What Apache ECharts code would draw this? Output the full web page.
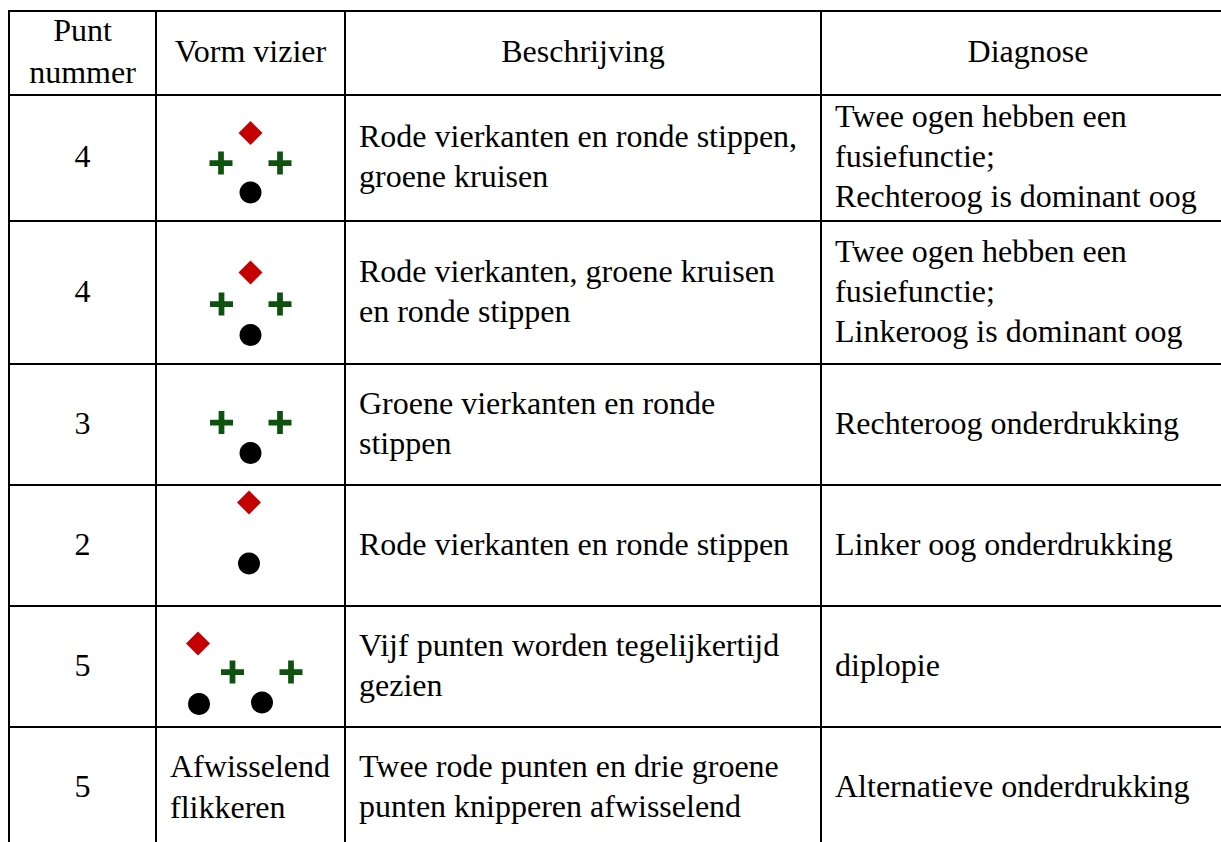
<!DOCTYPE html>
<html>
<head>
<meta charset="utf-8">
<script src="https://cdn.jsdelivr.net/npm/echarts@6/dist/echarts.min.js"></script>
<style>
html,body{margin:0;padding:0;background:#ffffff;}
#chart{width:1221px;height:842px;}
</style>
</head>
<body>
<div id="chart"></div>
<script>
// ---- table content ----
const headers = ["Punt\nnummer", "Vorm vizier", "Beschrijving", "Diagnose"];
const puntNummer = ["4", "4", "3", "2", "5", "5"];
const vormVizierText = ["", "", "", "", "", "Afwisselend\nflikkeren"];
const beschrijving = [
  "Rode vierkanten en ronde stippen,\ngroene kruisen",
  "Rode vierkanten, groene kruisen\nen ronde stippen",
  "Groene vierkanten en ronde\nstippen",
  "Rode vierkanten en ronde stippen",
  "Vijf punten worden tegelijkertijd\ngezien",
  "Twee rode punten en drie groene\npunten knipperen afwisselend"
];
const diagnose = [
  "Twee ogen hebben een\nfusiefunctie;\nRechteroog is dominant oog",
  "Twee ogen hebben een\nfusiefunctie;\nLinkeroog is dominant oog",
  "Rechteroog onderdrukking",
  "Linker oog onderdrukking",
  "diplopie",
  "Alternatieve onderdrukking"
];
// icon marks in the "Vorm vizier" cells: [row, dx, dy] (offset from cell centre)
const diamonds = [[0, 0, -25], [1, 0, -20], [3, -1.5, -43], [4, -52.5, -23]];
const crosses = [[0, -29.5, 5], [0, 29.5, 5], [1, -29, 11.5], [1, 29.5, 11.5],
                 [2, -29, -2], [2, 29.5, -2], [4, -18, 5.5], [4, 40.5, 5.5]];
const dots = [[0, 0, 34.5], [1, 0, 42.5], [2, 0, 28.5], [3, -1.5, 18], [4, -51.5, 37.5], [4, 11.5, 36]];

// ---- layout ----
const colEdges = [9, 156, 345, 821, 1235];
const rowEdges = [11, 95, 221, 364, 485, 606, 727, 849];
const FONT = '32px "Liberation Serif", "Times New Roman", serif';
const PLUS = 'path://M9,0H15V9H24V15H15V24H9V15H0V9H9Z';

const chart = echarts.init(document.getElementById('chart'), null, {renderer: 'svg'});

const graphics = [];
// horizontal lines
rowEdges.forEach(y => {
  graphics.push({type: 'line', shape: {x1: colEdges[0] - 1, y1: y, x2: colEdges[4] + 1, y2: y},
    style: {stroke: '#000', lineWidth: 2}, silent: true});
});
// vertical lines
colEdges.forEach(x => {
  graphics.push({type: 'line', shape: {x1: x, y1: rowEdges[0] - 1, x2: x, y2: rowEdges[7] + 1},
    style: {stroke: '#000', lineWidth: 2}, silent: true});
});

function cellText(text, col, row, align, lh) {
  if (!text) return;
  const x = align === 'center' ? (colEdges[col] + colEdges[col + 1]) / 2 : colEdges[col] + 14;
  const y = (rowEdges[row] + rowEdges[row + 1]) / 2 - 2;
  graphics.push({type: 'text', silent: true,
    style: {text: text, x: x, y: y, font: FONT, fill: '#000', align: align,
      verticalAlign: 'middle', lineHeight: lh || 40}});
}
headers.forEach((h, c) => cellText(h, c, 0, 'center', c === 0 ? 42 : 40));
for (let r = 0; r < 6; r++) {
  cellText(puntNummer[r], 0, r + 1, 'center');
  cellText(vormVizierText[r], 1, r + 1, 'left', 41);
  cellText(beschrijving[r], 2, r + 1, 'left');
  cellText(diagnose[r], 3, r + 1, 'left');
}

// grids for the icon cells
const grids = [], xAxes = [], yAxes = [], series = [];
for (let r = 0; r < 5; r++) {
  const w = colEdges[2] - colEdges[1];
  const h = rowEdges[r + 2] - rowEdges[r + 1];
  grids.push({left: colEdges[1], top: rowEdges[r + 1], width: w, height: h, show: false});
  xAxes.push({type: 'value', gridIndex: r, min: -w / 2, max: w / 2, show: false});
  yAxes.push({type: 'value', gridIndex: r, min: -h / 2, max: h / 2, inverse: true, show: false});
  const mk = (pts, symbol, size, color) => {
    const d = pts.filter(p => p[0] === r).map(p => [p[1], p[2]]);
    if (!d.length) return;
    series.push({type: 'scatter', xAxisIndex: r, yAxisIndex: r, data: d, symbol: symbol,
      symbolSize: size, itemStyle: {color: color, opacity: 1}, silent: true, clip: false});
  };
  mk(diamonds, 'diamond', [24, 24], '#c40000');
  mk(crosses, PLUS, 23, '#0f520f');
  mk(dots, 'circle', 22, '#000000');
}

chart.setOption({
  animation: false,
  backgroundColor: '#ffffff',
  grid: grids,
  xAxis: xAxes,
  yAxis: yAxes,
  series: series,
  graphic: {elements: graphics}
});
</script>
</body>
</html>
